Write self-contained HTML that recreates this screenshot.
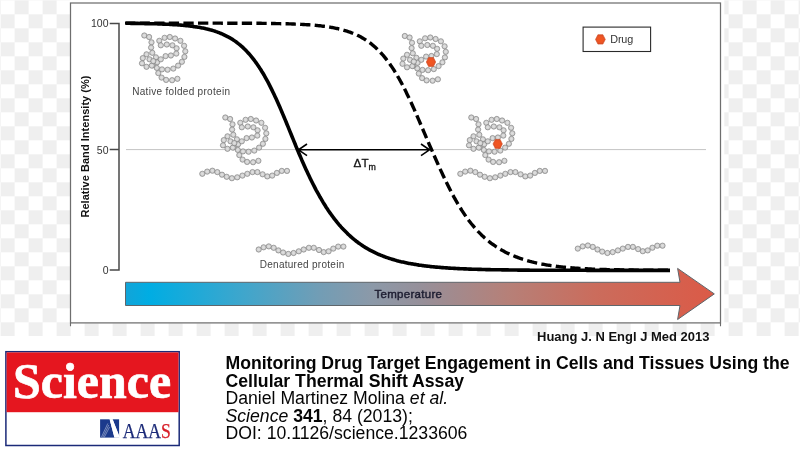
<!DOCTYPE html>
<html><head><meta charset="utf-8"><title>CETSA</title>
<style>
html,body{margin:0;padding:0;background:#fff;}
body{width:800px;height:459px;position:relative;overflow:hidden;}
</style></head><body>
<svg width="800" height="459" viewBox="0 0 800 459" style="position:absolute;left:0;top:0">
<defs>
<pattern id="chk" x="0.6" y="0.3" width="28" height="28" patternUnits="userSpaceOnUse">
<rect width="28" height="28" fill="#ffffff"/>
<rect x="14" y="0" width="14" height="14" fill="#efefef"/>
<rect x="0" y="14" width="14" height="14" fill="#efefef"/>
</pattern>
<radialGradient id="bg" cx="0.5" cy="0.5" r="0.5"><stop offset="0" stop-color="#e2e2e2"/><stop offset="0.6" stop-color="#d4d4d4"/><stop offset="1" stop-color="#c0c0c0"/></radialGradient>
<radialGradient id="dg" cx="0.5" cy="0.5" r="0.5"><stop offset="0" stop-color="#f4561f"/><stop offset="0.6" stop-color="#ee5524"/><stop offset="1" stop-color="#dc4f26"/></radialGradient>
<linearGradient id="tg" x1="0" y1="0" x2="1" y2="0">
<stop offset="0" stop-color="#12a4d8"/>
<stop offset="0.04" stop-color="#00ade3"/>
<stop offset="0.2" stop-color="#3fa6cc"/>
<stop offset="0.33" stop-color="#729db5"/>
<stop offset="0.42" stop-color="#8c99a8"/>
<stop offset="0.5" stop-color="#96909a"/>
<stop offset="0.65" stop-color="#b68078"/>
<stop offset="0.8" stop-color="#cb6c5c"/>
<stop offset="1" stop-color="#db5a47"/>
</linearGradient>
</defs>
<rect x="0" y="0" width="800" height="336" fill="url(#chk)"/>
<rect x="70" y="0" width="654.3" height="323.3" fill="#fff"/>
<rect x="70.5" y="3" width="650" height="319.9" fill="none" stroke="#6e6e6e" stroke-width="1.25"/>
<path d="M70.5 323V326.2M720.5 323V326.2" stroke="#6c6c6c" stroke-width="1.1"/>
<line x1="126" y1="149.6" x2="706" y2="149.6" stroke="#c4c4c4" stroke-width="1"/>
<path d="M109.7 23.4H119V270.1H109.7 M109.7 149.6H119" fill="none" stroke="#484848" stroke-width="1.5"/>
<g fill="url(#bg)" stroke="#808080" stroke-width="0.65">
<circle cx="144.3" cy="35.5" r="2.65"/><circle cx="149.1" cy="37.0" r="2.65"/><circle cx="151.5" cy="42.3" r="2.65"/><circle cx="151.1" cy="47.6" r="2.65"/><circle cx="152.3" cy="52.8" r="2.65"/><circle cx="155.9" cy="57.3" r="2.65"/><circle cx="157.1" cy="62.3" r="2.65"/><circle cx="156.8" cy="67.9" r="2.65"/><circle cx="158.3" cy="73.1" r="2.65"/><circle cx="161.6" cy="77.6" r="2.65"/><circle cx="166.1" cy="79.9" r="2.65"/><circle cx="172.1" cy="80.2" r="2.65"/><circle cx="177.4" cy="78.8" r="2.65"/><circle cx="159.3" cy="40.8" r="2.65"/><circle cx="164.6" cy="37.8" r="2.65"/><circle cx="169.8" cy="37.0" r="2.65"/><circle cx="175.1" cy="38.5" r="2.65"/><circle cx="180.4" cy="40.8" r="2.65"/><circle cx="184.1" cy="45.8" r="2.65"/><circle cx="185.3" cy="51.3" r="2.65"/><circle cx="184.4" cy="56.9" r="2.65"/><circle cx="181.9" cy="61.8" r="2.65"/><circle cx="178.1" cy="65.6" r="2.65"/><circle cx="173.3" cy="68.6" r="2.65"/><circle cx="167.6" cy="69.7" r="2.65"/><circle cx="162.0" cy="69.4" r="2.65"/><circle cx="160.8" cy="45.3" r="2.65"/><circle cx="166.8" cy="44.5" r="2.65"/><circle cx="172.4" cy="45.3" r="2.65"/><circle cx="176.6" cy="48.3" r="2.65"/><circle cx="176.3" cy="53.6" r="2.65"/><circle cx="170.9" cy="55.5" r="2.65"/><circle cx="165.6" cy="56.1" r="2.65"/><circle cx="160.8" cy="59.3" r="2.65"/><circle cx="152.6" cy="65.3" r="2.65"/><circle cx="146.5" cy="54.3" r="2.65"/><circle cx="142.8" cy="58.1" r="2.65"/><circle cx="142.0" cy="63.3" r="2.65"/><circle cx="146.5" cy="66.8" r="2.65"/><circle cx="151.8" cy="65.6" r="2.65"/><circle cx="149.5" cy="59.3" r="2.65"/><circle cx="153.3" cy="61.1" r="2.65"/>
<circle cx="225.3" cy="117.5" r="2.65"/><circle cx="230.1" cy="119.0" r="2.65"/><circle cx="232.5" cy="124.3" r="2.65"/><circle cx="232.1" cy="129.6" r="2.65"/><circle cx="233.3" cy="134.8" r="2.65"/><circle cx="236.9" cy="139.3" r="2.65"/><circle cx="238.1" cy="144.3" r="2.65"/><circle cx="237.8" cy="149.9" r="2.65"/><circle cx="239.3" cy="155.1" r="2.65"/><circle cx="242.6" cy="159.6" r="2.65"/><circle cx="247.1" cy="161.9" r="2.65"/><circle cx="253.1" cy="162.2" r="2.65"/><circle cx="258.4" cy="160.8" r="2.65"/><circle cx="240.3" cy="122.8" r="2.65"/><circle cx="245.6" cy="119.8" r="2.65"/><circle cx="250.8" cy="119.0" r="2.65"/><circle cx="256.1" cy="120.5" r="2.65"/><circle cx="261.4" cy="122.8" r="2.65"/><circle cx="265.1" cy="127.8" r="2.65"/><circle cx="266.3" cy="133.3" r="2.65"/><circle cx="265.4" cy="138.9" r="2.65"/><circle cx="262.9" cy="143.8" r="2.65"/><circle cx="259.1" cy="147.6" r="2.65"/><circle cx="254.3" cy="150.6" r="2.65"/><circle cx="248.6" cy="151.7" r="2.65"/><circle cx="243.0" cy="151.4" r="2.65"/><circle cx="241.8" cy="127.3" r="2.65"/><circle cx="247.8" cy="126.5" r="2.65"/><circle cx="253.4" cy="127.3" r="2.65"/><circle cx="257.6" cy="130.3" r="2.65"/><circle cx="257.3" cy="135.6" r="2.65"/><circle cx="251.9" cy="137.5" r="2.65"/><circle cx="246.6" cy="138.1" r="2.65"/><circle cx="241.8" cy="141.3" r="2.65"/><circle cx="233.6" cy="147.3" r="2.65"/><circle cx="227.5" cy="136.3" r="2.65"/><circle cx="223.8" cy="140.1" r="2.65"/><circle cx="223.0" cy="145.3" r="2.65"/><circle cx="227.5" cy="148.8" r="2.65"/><circle cx="232.8" cy="147.6" r="2.65"/><circle cx="230.5" cy="141.3" r="2.65"/><circle cx="234.3" cy="143.1" r="2.65"/>
<circle cx="404.8" cy="36.0" r="2.65"/><circle cx="409.6" cy="37.5" r="2.65"/><circle cx="412.0" cy="42.8" r="2.65"/><circle cx="411.6" cy="48.1" r="2.65"/><circle cx="412.8" cy="53.3" r="2.65"/><circle cx="416.4" cy="57.8" r="2.65"/><circle cx="417.6" cy="62.8" r="2.65"/><circle cx="417.3" cy="68.4" r="2.65"/><circle cx="418.8" cy="73.6" r="2.65"/><circle cx="422.1" cy="78.1" r="2.65"/><circle cx="426.6" cy="80.4" r="2.65"/><circle cx="432.6" cy="80.7" r="2.65"/><circle cx="437.9" cy="79.3" r="2.65"/><circle cx="419.8" cy="41.3" r="2.65"/><circle cx="425.1" cy="38.3" r="2.65"/><circle cx="430.3" cy="37.5" r="2.65"/><circle cx="435.6" cy="39.0" r="2.65"/><circle cx="440.9" cy="41.3" r="2.65"/><circle cx="444.6" cy="46.3" r="2.65"/><circle cx="445.8" cy="51.8" r="2.65"/><circle cx="444.9" cy="57.4" r="2.65"/><circle cx="442.4" cy="62.3" r="2.65"/><circle cx="438.6" cy="66.1" r="2.65"/><circle cx="433.8" cy="69.1" r="2.65"/><circle cx="428.1" cy="70.2" r="2.65"/><circle cx="422.5" cy="69.9" r="2.65"/><circle cx="421.3" cy="45.8" r="2.65"/><circle cx="427.3" cy="45.0" r="2.65"/><circle cx="432.9" cy="45.8" r="2.65"/><circle cx="437.1" cy="48.8" r="2.65"/><circle cx="436.8" cy="54.1" r="2.65"/><circle cx="431.4" cy="56.0" r="2.65"/><circle cx="426.1" cy="56.6" r="2.65"/><circle cx="421.3" cy="59.8" r="2.65"/><circle cx="413.1" cy="65.8" r="2.65"/><circle cx="407.0" cy="54.8" r="2.65"/><circle cx="403.3" cy="58.6" r="2.65"/><circle cx="402.5" cy="63.8" r="2.65"/><circle cx="407.0" cy="67.3" r="2.65"/><circle cx="412.3" cy="66.1" r="2.65"/><circle cx="410.0" cy="59.8" r="2.65"/><circle cx="413.8" cy="61.6" r="2.65"/>
<circle cx="471.3" cy="117.5" r="2.65"/><circle cx="476.1" cy="119.0" r="2.65"/><circle cx="478.5" cy="124.3" r="2.65"/><circle cx="478.1" cy="129.6" r="2.65"/><circle cx="479.3" cy="134.8" r="2.65"/><circle cx="482.9" cy="139.3" r="2.65"/><circle cx="484.1" cy="144.3" r="2.65"/><circle cx="483.8" cy="149.9" r="2.65"/><circle cx="485.3" cy="155.1" r="2.65"/><circle cx="488.6" cy="159.6" r="2.65"/><circle cx="493.1" cy="161.9" r="2.65"/><circle cx="499.1" cy="162.2" r="2.65"/><circle cx="504.4" cy="160.8" r="2.65"/><circle cx="486.3" cy="122.8" r="2.65"/><circle cx="491.6" cy="119.8" r="2.65"/><circle cx="496.8" cy="119.0" r="2.65"/><circle cx="502.1" cy="120.5" r="2.65"/><circle cx="507.4" cy="122.8" r="2.65"/><circle cx="511.1" cy="127.8" r="2.65"/><circle cx="512.3" cy="133.3" r="2.65"/><circle cx="511.4" cy="138.9" r="2.65"/><circle cx="508.9" cy="143.8" r="2.65"/><circle cx="505.1" cy="147.6" r="2.65"/><circle cx="500.3" cy="150.6" r="2.65"/><circle cx="494.6" cy="151.7" r="2.65"/><circle cx="489.0" cy="151.4" r="2.65"/><circle cx="487.8" cy="127.3" r="2.65"/><circle cx="493.8" cy="126.5" r="2.65"/><circle cx="499.4" cy="127.3" r="2.65"/><circle cx="503.6" cy="130.3" r="2.65"/><circle cx="503.3" cy="135.6" r="2.65"/><circle cx="497.9" cy="137.5" r="2.65"/><circle cx="492.6" cy="138.1" r="2.65"/><circle cx="487.8" cy="141.3" r="2.65"/><circle cx="479.6" cy="147.3" r="2.65"/><circle cx="473.5" cy="136.3" r="2.65"/><circle cx="469.8" cy="140.1" r="2.65"/><circle cx="469.0" cy="145.3" r="2.65"/><circle cx="473.5" cy="148.8" r="2.65"/><circle cx="478.8" cy="147.6" r="2.65"/><circle cx="476.5" cy="141.3" r="2.65"/><circle cx="480.3" cy="143.1" r="2.65"/>
<circle cx="202.3" cy="173.8" r="2.65"/><circle cx="207.2" cy="171.6" r="2.65"/><circle cx="212.4" cy="170.7" r="2.65"/><circle cx="217.3" cy="172.1" r="2.65"/><circle cx="222.0" cy="174.7" r="2.65"/><circle cx="226.7" cy="176.8" r="2.65"/><circle cx="231.9" cy="178.2" r="2.65"/><circle cx="237.2" cy="177.3" r="2.65"/><circle cx="242.4" cy="175.6" r="2.65"/><circle cx="247.3" cy="173.8" r="2.65"/><circle cx="252.5" cy="172.1" r="2.65"/><circle cx="257.4" cy="172.1" r="2.65"/><circle cx="262.6" cy="174.3" r="2.65"/><circle cx="267.3" cy="176.4" r="2.65"/><circle cx="272.2" cy="175.6" r="2.65"/><circle cx="276.9" cy="172.9" r="2.65"/><circle cx="281.8" cy="170.9" r="2.65"/><circle cx="287.0" cy="170.9" r="2.65"/>
<circle cx="258.7" cy="249.5" r="2.65"/><circle cx="263.6" cy="247.3" r="2.65"/><circle cx="268.8" cy="246.4" r="2.65"/><circle cx="273.7" cy="247.8" r="2.65"/><circle cx="278.4" cy="250.4" r="2.65"/><circle cx="283.1" cy="252.5" r="2.65"/><circle cx="288.3" cy="253.9" r="2.65"/><circle cx="293.6" cy="253.0" r="2.65"/><circle cx="298.8" cy="251.3" r="2.65"/><circle cx="303.7" cy="249.5" r="2.65"/><circle cx="308.9" cy="247.8" r="2.65"/><circle cx="313.8" cy="247.8" r="2.65"/><circle cx="319.0" cy="250.0" r="2.65"/><circle cx="323.7" cy="252.1" r="2.65"/><circle cx="328.6" cy="251.3" r="2.65"/><circle cx="333.3" cy="248.6" r="2.65"/><circle cx="338.2" cy="246.6" r="2.65"/><circle cx="343.4" cy="246.6" r="2.65"/>
<circle cx="460.3" cy="173.8" r="2.65"/><circle cx="465.2" cy="171.6" r="2.65"/><circle cx="470.4" cy="170.7" r="2.65"/><circle cx="475.3" cy="172.1" r="2.65"/><circle cx="480.0" cy="174.7" r="2.65"/><circle cx="484.7" cy="176.8" r="2.65"/><circle cx="489.9" cy="178.2" r="2.65"/><circle cx="495.2" cy="177.3" r="2.65"/><circle cx="500.4" cy="175.6" r="2.65"/><circle cx="505.3" cy="173.8" r="2.65"/><circle cx="510.5" cy="172.1" r="2.65"/><circle cx="515.4" cy="172.1" r="2.65"/><circle cx="520.6" cy="174.3" r="2.65"/><circle cx="525.3" cy="176.4" r="2.65"/><circle cx="530.2" cy="175.6" r="2.65"/><circle cx="534.9" cy="172.9" r="2.65"/><circle cx="539.8" cy="170.9" r="2.65"/><circle cx="545.0" cy="170.9" r="2.65"/>
<circle cx="577.8" cy="248.6" r="2.65"/><circle cx="582.7" cy="246.4" r="2.65"/><circle cx="587.9" cy="245.5" r="2.65"/><circle cx="592.8" cy="246.9" r="2.65"/><circle cx="597.5" cy="249.5" r="2.65"/><circle cx="602.2" cy="251.6" r="2.65"/><circle cx="607.4" cy="253.0" r="2.65"/><circle cx="612.7" cy="252.1" r="2.65"/><circle cx="617.9" cy="250.4" r="2.65"/><circle cx="622.8" cy="248.6" r="2.65"/><circle cx="628.0" cy="246.9" r="2.65"/><circle cx="632.9" cy="246.9" r="2.65"/><circle cx="638.1" cy="249.1" r="2.65"/><circle cx="642.8" cy="251.2" r="2.65"/><circle cx="647.7" cy="250.4" r="2.65"/><circle cx="652.4" cy="247.7" r="2.65"/><circle cx="657.3" cy="245.7" r="2.65"/><circle cx="662.5" cy="245.7" r="2.65"/>
</g>
<polygon points="435.7,62.0 433.4,66.5 428.6,66.5 426.3,62.0 428.6,57.5 433.4,57.5" fill="url(#dg)" stroke="#cf4a22" stroke-width="0.6"/>
<polygon points="502.4,143.9 500.1,148.4 495.3,148.4 493.0,143.9 495.3,139.4 500.1,139.4" fill="url(#dg)" stroke="#cf4a22" stroke-width="0.6"/>
<path d="M125.0 23.1 L126.0 23.1 L127.0 23.1 L128.0 23.1 L129.0 23.1 L130.0 23.1 L131.0 23.1 L132.0 23.1 L133.0 23.1 L134.0 23.1 L135.0 23.1 L136.0 23.1 L137.0 23.1 L138.0 23.1 L139.0 23.1 L140.0 23.1 L141.0 23.1 L142.0 23.1 L143.0 23.1 L144.0 23.1 L145.0 23.1 L146.0 23.1 L147.0 23.1 L148.0 23.1 L149.0 23.1 L150.0 23.1 L151.0 23.1 L152.0 23.1 L153.0 23.1 L154.0 23.1 L155.0 23.1 L156.0 23.1 L157.0 23.1 L158.0 23.1 L159.0 23.1 L160.0 23.1 L161.0 23.1 L162.0 23.1 L163.0 23.1 L164.0 23.1 L165.0 23.1 L166.0 23.1 L167.0 23.1 L168.0 23.1 L169.0 23.1 L170.0 23.1 L171.0 23.1 L172.0 23.1 L173.0 23.1 L174.0 23.1 L175.0 23.1 L176.0 23.1 L177.0 23.1 L178.0 23.1 L179.0 23.1 L180.0 23.1 L181.0 23.1 L182.0 23.1 L183.0 23.1 L184.0 23.1 L185.0 23.1 L186.0 23.1 L187.0 23.1 L188.0 23.1 L189.0 23.1 L190.0 23.1 L191.0 23.1 L192.0 23.1 L193.0 23.1 L194.0 23.1 L195.0 23.1 L196.0 23.1 L197.0 23.1 L198.0 23.1 L199.0 23.1 L200.0 23.1 L201.0 23.1 L202.0 23.1 L203.0 23.1 L204.0 23.1 L205.0 23.1 L206.0 23.1 L207.0 23.1 L208.0 23.1 L209.0 23.1 L210.0 23.1 L211.0 23.1 L212.0 23.1 L213.0 23.1 L214.0 23.1 L215.0 23.1 L216.0 23.1 L217.0 23.1 L218.0 23.1 L219.0 23.1 L220.0 23.1 L221.0 23.1 L222.0 23.2 L223.0 23.2 L224.0 23.2 L225.0 23.2 L226.0 23.2 L227.0 23.2 L228.0 23.2 L229.0 23.2 L230.0 23.2 L231.0 23.2 L232.0 23.2 L233.0 23.2 L234.0 23.2 L235.0 23.2 L236.0 23.2 L237.0 23.2 L238.0 23.2 L239.0 23.2 L240.0 23.2 L241.0 23.2 L242.0 23.2 L243.0 23.2 L244.0 23.2 L245.0 23.2 L246.0 23.2 L247.0 23.2 L248.0 23.2 L249.0 23.3 L250.0 23.3 L251.0 23.3 L252.0 23.3 L253.0 23.3 L254.0 23.3 L255.0 23.3 L256.0 23.3 L257.0 23.3 L258.0 23.3 L259.0 23.3 L260.0 23.3 L261.0 23.3 L262.0 23.4 L263.0 23.4 L264.0 23.4 L265.0 23.4 L266.0 23.4 L267.0 23.4 L268.0 23.4 L269.0 23.4 L270.0 23.5 L271.0 23.5 L272.0 23.5 L273.0 23.5 L274.0 23.5 L275.0 23.5 L276.0 23.6 L277.0 23.6 L278.0 23.6 L279.0 23.6 L280.0 23.6 L281.0 23.7 L282.0 23.7 L283.0 23.7 L284.0 23.7 L285.0 23.8 L286.0 23.8 L287.0 23.8 L288.0 23.8 L289.0 23.9 L290.0 23.9 L291.0 23.9 L292.0 24.0 L293.0 24.0 L294.0 24.0 L295.0 24.1 L296.0 24.1 L297.0 24.2 L298.0 24.2 L299.0 24.3 L300.0 24.3 L301.0 24.4 L302.0 24.4 L303.0 24.5 L304.0 24.5 L305.0 24.6 L306.0 24.6 L307.0 24.7 L308.0 24.8 L309.0 24.8 L310.0 24.9 L311.0 25.0 L312.0 25.1 L313.0 25.2 L314.0 25.2 L315.0 25.3 L316.0 25.4 L317.0 25.5 L318.0 25.6 L319.0 25.7 L320.0 25.8 L321.0 25.9 L322.0 26.1 L323.0 26.2 L324.0 26.3 L325.0 26.4 L326.0 26.6 L327.0 26.7 L328.0 26.9 L329.0 27.0 L330.0 27.2 L331.0 27.4 L332.0 27.5 L333.0 27.7 L334.0 27.9 L335.0 28.1 L336.0 28.3 L337.0 28.5 L338.0 28.7 L339.0 29.0 L340.0 29.2 L341.0 29.5 L342.0 29.7 L343.0 30.0 L344.0 30.3 L345.0 30.6 L346.0 30.9 L347.0 31.2 L348.0 31.5 L349.0 31.9 L350.0 32.2 L351.0 32.6 L352.0 33.0 L353.0 33.4 L354.0 33.8 L355.0 34.2 L356.0 34.6 L357.0 35.1 L358.0 35.6 L359.0 36.1 L360.0 36.6 L361.0 37.1 L362.0 37.7 L363.0 38.3 L364.0 38.9 L365.0 39.5 L366.0 40.1 L367.0 40.8 L368.0 41.5 L369.0 42.2 L370.0 42.9 L371.0 43.7 L372.0 44.5 L373.0 45.3 L374.0 46.2 L375.0 47.1 L376.0 48.0 L377.0 48.9 L378.0 49.9 L379.0 50.9 L380.0 51.9 L381.0 53.0 L382.0 54.1 L383.0 55.2 L384.0 56.4 L385.0 57.6 L386.0 58.9 L387.0 60.2 L388.0 61.5 L389.0 62.8 L390.0 64.2 L391.0 65.7 L392.0 67.1 L393.0 68.6 L394.0 70.2 L395.0 71.8 L396.0 73.4 L397.0 75.1 L398.0 76.8 L399.0 78.5 L400.0 80.3 L401.0 82.2 L402.0 84.0 L403.0 85.9 L404.0 87.8 L405.0 89.8 L406.0 91.8 L407.0 93.9 L408.0 95.9 L409.0 98.0 L410.0 100.2 L411.0 102.3 L412.0 104.5 L413.0 106.7 L414.0 108.9 L415.0 111.2 L416.0 113.5 L417.0 115.8 L418.0 118.1 L419.0 120.4 L420.0 122.7 L421.0 125.1 L422.0 127.4 L423.0 129.7 L424.0 132.1 L425.0 134.4 L426.0 136.8 L427.0 139.1 L428.0 141.4 L429.0 143.8 L430.0 146.1 L431.0 148.4 L432.0 150.6 L433.0 152.9 L434.0 155.2 L435.0 157.5 L436.0 159.7 L437.0 162.0 L438.0 164.2 L439.0 166.5 L440.0 168.7 L441.0 170.9 L442.0 173.0 L443.0 175.2 L444.0 177.3 L445.0 179.4 L446.0 181.5 L447.0 183.5 L448.0 185.6 L449.0 187.6 L450.0 189.5 L451.0 191.5 L452.0 193.4 L453.0 195.2 L454.0 197.1 L455.0 198.9 L456.0 200.7 L457.0 202.4 L458.0 204.1 L459.0 205.8 L460.0 207.4 L461.0 209.0 L462.0 210.6 L463.0 212.1 L464.0 213.6 L465.0 215.1 L466.0 216.6 L467.0 218.0 L468.0 219.3 L469.0 220.7 L470.0 222.0 L471.0 223.3 L472.0 224.5 L473.0 225.7 L474.0 226.9 L475.0 228.1 L476.0 229.2 L477.0 230.3 L478.0 231.4 L479.0 232.4 L480.0 233.4 L481.0 234.4 L482.0 235.4 L483.0 236.3 L484.0 237.3 L485.0 238.2 L486.0 239.0 L487.0 239.9 L488.0 240.7 L489.0 241.5 L490.0 242.3 L491.0 243.1 L492.0 243.8 L493.0 244.5 L494.0 245.2 L495.0 245.9 L496.0 246.6 L497.0 247.2 L498.0 247.9 L499.0 248.5 L500.0 249.1 L501.0 249.7 L502.0 250.2 L503.0 250.8 L504.0 251.3 L505.0 251.9 L506.0 252.4 L507.0 252.9 L508.0 253.4 L509.0 253.8 L510.0 254.3 L511.0 254.8 L512.0 255.2 L513.0 255.6 L514.0 256.0 L515.0 256.4 L516.0 256.8 L517.0 257.2 L518.0 257.6 L519.0 258.0 L520.0 258.3 L521.0 258.6 L522.0 259.0 L523.0 259.3 L524.0 259.6 L525.0 259.9 L526.0 260.2 L527.0 260.5 L528.0 260.8 L529.0 261.1 L530.0 261.4 L531.0 261.6 L532.0 261.9 L533.0 262.1 L534.0 262.4 L535.0 262.6 L536.0 262.8 L537.0 263.1 L538.0 263.3 L539.0 263.5 L540.0 263.7 L541.0 263.9 L542.0 264.1 L543.0 264.3 L544.0 264.4 L545.0 264.6 L546.0 264.8 L547.0 265.0 L548.0 265.1 L549.0 265.3 L550.0 265.4 L551.0 265.6 L552.0 265.7 L553.0 265.9 L554.0 266.0 L555.0 266.1 L556.0 266.3 L557.0 266.4 L558.0 266.5 L559.0 266.6 L560.0 266.8 L561.0 266.9 L562.0 267.0 L563.0 267.1 L564.0 267.2 L565.0 267.3 L566.0 267.4 L567.0 267.5 L568.0 267.6 L569.0 267.6 L570.0 267.7 L571.0 267.8 L572.0 267.9 L573.0 268.0 L574.0 268.0 L575.0 268.1 L576.0 268.2 L577.0 268.3 L578.0 268.3 L579.0 268.4 L580.0 268.5 L581.0 268.5 L582.0 268.6 L583.0 268.6 L584.0 268.7 L585.0 268.7 L586.0 268.8 L587.0 268.8 L588.0 268.9 L589.0 268.9 L590.0 269.0 L591.0 269.0 L592.0 269.1 L593.0 269.1 L594.0 269.2 L595.0 269.2 L596.0 269.2 L597.0 269.3 L598.0 269.3 L599.0 269.3 L600.0 269.4 L601.0 269.4 L602.0 269.4 L603.0 269.5 L604.0 269.5 L605.0 269.5 L606.0 269.5 L607.0 269.6 L608.0 269.6 L609.0 269.6 L610.0 269.7 L611.0 269.7 L612.0 269.7 L613.0 269.7 L614.0 269.7 L615.0 269.8 L616.0 269.8 L617.0 269.8 L618.0 269.8 L619.0 269.8 L620.0 269.9 L621.0 269.9 L622.0 269.9 L623.0 269.9 L624.0 269.9 L625.0 269.9 L626.0 270.0 L627.0 270.0 L628.0 270.0 L629.0 270.0 L630.0 270.0 L631.0 270.0 L632.0 270.0 L633.0 270.0 L634.0 270.1 L635.0 270.1 L636.0 270.1 L637.0 270.1 L638.0 270.1 L639.0 270.1 L640.0 270.1 L641.0 270.1 L642.0 270.1 L643.0 270.1 L644.0 270.1 L645.0 270.2 L646.0 270.2 L647.0 270.2 L648.0 270.2 L649.0 270.2 L650.0 270.2 L651.0 270.2 L652.0 270.2 L653.0 270.2 L654.0 270.2 L655.0 270.2 L656.0 270.2 L657.0 270.2 L658.0 270.2 L659.0 270.2 L660.0 270.3 L661.0 270.3 L662.0 270.3 L663.0 270.3 L664.0 270.3 L665.0 270.3 L666.0 270.3 L667.0 270.3 L668.0 270.3 L669.0 270.3" fill="none" stroke="#000" stroke-width="3.4" stroke-dasharray="10.3 4.3"/>
<path d="M126.0 23.3 L127.0 23.3 L128.0 23.3 L129.0 23.3 L130.0 23.3 L131.0 23.4 L132.0 23.4 L133.0 23.4 L134.0 23.4 L135.0 23.4 L136.0 23.4 L137.0 23.4 L138.0 23.4 L139.0 23.5 L140.0 23.5 L141.0 23.5 L142.0 23.5 L143.0 23.5 L144.0 23.5 L145.0 23.6 L146.0 23.6 L147.0 23.6 L148.0 23.6 L149.0 23.6 L150.0 23.7 L151.0 23.7 L152.0 23.7 L153.0 23.7 L154.0 23.8 L155.0 23.8 L156.0 23.8 L157.0 23.8 L158.0 23.9 L159.0 23.9 L160.0 23.9 L161.0 24.0 L162.0 24.0 L163.0 24.1 L164.0 24.1 L165.0 24.1 L166.0 24.2 L167.0 24.2 L168.0 24.3 L169.0 24.3 L170.0 24.4 L171.0 24.4 L172.0 24.5 L173.0 24.6 L174.0 24.6 L175.0 24.7 L176.0 24.7 L177.0 24.8 L178.0 24.9 L179.0 25.0 L180.0 25.0 L181.0 25.1 L182.0 25.2 L183.0 25.3 L184.0 25.4 L185.0 25.5 L186.0 25.6 L187.0 25.7 L188.0 25.8 L189.0 25.9 L190.0 26.0 L191.0 26.2 L192.0 26.3 L193.0 26.4 L194.0 26.6 L195.0 26.7 L196.0 26.9 L197.0 27.0 L198.0 27.2 L199.0 27.3 L200.0 27.5 L201.0 27.7 L202.0 27.9 L203.0 28.1 L204.0 28.3 L205.0 28.5 L206.0 28.8 L207.0 29.0 L208.0 29.2 L209.0 29.5 L210.0 29.8 L211.0 30.0 L212.0 30.3 L213.0 30.6 L214.0 30.9 L215.0 31.2 L216.0 31.6 L217.0 31.9 L218.0 32.3 L219.0 32.7 L220.0 33.1 L221.0 33.5 L222.0 33.9 L223.0 34.3 L224.0 34.8 L225.0 35.3 L226.0 35.8 L227.0 36.3 L228.0 36.8 L229.0 37.4 L230.0 37.9 L231.0 38.5 L232.0 39.1 L233.0 39.8 L234.0 40.4 L235.0 41.1 L236.0 41.8 L237.0 42.6 L238.0 43.4 L239.0 44.1 L240.0 45.0 L241.0 45.8 L242.0 46.7 L243.0 47.6 L244.0 48.6 L245.0 49.5 L246.0 50.5 L247.0 51.6 L248.0 52.7 L249.0 53.8 L250.0 54.9 L251.0 56.1 L252.0 57.3 L253.0 58.6 L254.0 59.9 L255.0 61.2 L256.0 62.6 L257.0 64.0 L258.0 65.4 L259.0 66.9 L260.0 68.5 L261.0 70.0 L262.0 71.7 L263.0 73.3 L264.0 75.0 L265.0 76.8 L266.0 78.6 L267.0 80.4 L268.0 82.2 L269.0 84.1 L270.0 86.1 L271.0 88.1 L272.0 90.1 L273.0 92.2 L274.0 94.3 L275.0 96.4 L276.0 98.6 L277.0 100.8 L278.0 103.0 L279.0 105.3 L280.0 107.5 L281.0 109.9 L282.0 112.2 L283.0 114.6 L284.0 117.0 L285.0 119.4 L286.0 121.8 L287.0 124.2 L288.0 126.6 L289.0 129.1 L290.0 131.6 L291.0 134.0 L292.0 136.5 L293.0 138.9 L294.0 141.4 L295.0 143.8 L296.0 146.3 L297.0 148.7 L298.0 151.1 L299.0 153.5 L300.0 155.8 L301.0 158.1 L302.0 160.5 L303.0 162.7 L304.0 165.0 L305.0 167.2 L306.0 169.4 L307.0 171.6 L308.0 173.7 L309.0 175.8 L310.0 177.9 L311.0 180.0 L312.0 182.0 L313.0 184.0 L314.0 185.9 L315.0 187.9 L316.0 189.8 L317.0 191.6 L318.0 193.4 L319.0 195.2 L320.0 197.0 L321.0 198.7 L322.0 200.4 L323.0 202.1 L324.0 203.7 L325.0 205.3 L326.0 206.9 L327.0 208.4 L328.0 210.0 L329.0 211.4 L330.0 212.9 L331.0 214.3 L332.0 215.7 L333.0 217.0 L334.0 218.4 L335.0 219.7 L336.0 220.9 L337.0 222.2 L338.0 223.4 L339.0 224.6 L340.0 225.7 L341.0 226.9 L342.0 228.0 L343.0 229.0 L344.0 230.1 L345.0 231.1 L346.0 232.1 L347.0 233.1 L348.0 234.1 L349.0 235.0 L350.0 235.9 L351.0 236.8 L352.0 237.7 L353.0 238.5 L354.0 239.4 L355.0 240.2 L356.0 241.0 L357.0 241.7 L358.0 242.5 L359.0 243.2 L360.0 243.9 L361.0 244.6 L362.0 245.3 L363.0 246.0 L364.0 246.6 L365.0 247.2 L366.0 247.9 L367.0 248.4 L368.0 249.0 L369.0 249.6 L370.0 250.1 L371.0 250.7 L372.0 251.2 L373.0 251.7 L374.0 252.2 L375.0 252.7 L376.0 253.2 L377.0 253.6 L378.0 254.1 L379.0 254.5 L380.0 254.9 L381.0 255.3 L382.0 255.7 L383.0 256.1 L384.0 256.5 L385.0 256.9 L386.0 257.3 L387.0 257.6 L388.0 257.9 L389.0 258.3 L390.0 258.6 L391.0 258.9 L392.0 259.2 L393.0 259.5 L394.0 259.8 L395.0 260.1 L396.0 260.4 L397.0 260.7 L398.0 260.9 L399.0 261.2 L400.0 261.4 L401.0 261.7 L402.0 261.9 L403.0 262.1 L404.0 262.3 L405.0 262.6 L406.0 262.8 L407.0 263.0 L408.0 263.2 L409.0 263.4 L410.0 263.6 L411.0 263.8 L412.0 263.9 L413.0 264.1 L414.0 264.3 L415.0 264.4 L416.0 264.6 L417.0 264.8 L418.0 264.9 L419.0 265.1 L420.0 265.2 L421.0 265.3 L422.0 265.5 L423.0 265.6 L424.0 265.7 L425.0 265.9 L426.0 266.0 L427.0 266.1 L428.0 266.2 L429.0 266.3 L430.0 266.5 L431.0 266.6 L432.0 266.7 L433.0 266.8 L434.0 266.9 L435.0 267.0 L436.0 267.1 L437.0 267.1 L438.0 267.2 L439.0 267.3 L440.0 267.4 L441.0 267.5 L442.0 267.6 L443.0 267.6 L444.0 267.7 L445.0 267.8 L446.0 267.9 L447.0 267.9 L448.0 268.0 L449.0 268.1 L450.0 268.1 L451.0 268.2 L452.0 268.2 L453.0 268.3 L454.0 268.4 L455.0 268.4 L456.0 268.5 L457.0 268.5 L458.0 268.6 L459.0 268.6 L460.0 268.7 L461.0 268.7 L462.0 268.8 L463.0 268.8 L464.0 268.9 L465.0 268.9 L466.0 268.9 L467.0 269.0 L468.0 269.0 L469.0 269.1 L470.0 269.1 L471.0 269.1 L472.0 269.2 L473.0 269.2 L474.0 269.2 L475.0 269.3 L476.0 269.3 L477.0 269.3 L478.0 269.4 L479.0 269.4 L480.0 269.4 L481.0 269.4 L482.0 269.5 L483.0 269.5 L484.0 269.5 L485.0 269.5 L486.0 269.6 L487.0 269.6 L488.0 269.6 L489.0 269.6 L490.0 269.6 L491.0 269.7 L492.0 269.7 L493.0 269.7 L494.0 269.7 L495.0 269.7 L496.0 269.8 L497.0 269.8 L498.0 269.8 L499.0 269.8 L500.0 269.8 L501.0 269.8 L502.0 269.9 L503.0 269.9 L504.0 269.9 L505.0 269.9 L506.0 269.9 L507.0 269.9 L508.0 269.9 L509.0 270.0 L510.0 270.0 L511.0 270.0 L512.0 270.0 L513.0 270.0 L514.0 270.0 L515.0 270.0 L516.0 270.0 L517.0 270.0 L518.0 270.1 L519.0 270.1 L520.0 270.1 L521.0 270.1 L522.0 270.1 L523.0 270.1 L524.0 270.1 L525.0 270.1 L526.0 270.1 L527.0 270.1 L528.0 270.1 L529.0 270.1 L530.0 270.2 L531.0 270.2 L532.0 270.2 L533.0 270.2 L534.0 270.2 L535.0 270.2 L536.0 270.2 L537.0 270.2 L538.0 270.2 L539.0 270.2 L540.0 270.2 L541.0 270.2 L542.0 270.2 L543.0 270.2 L544.0 270.2 L545.0 270.2 L546.0 270.2 L547.0 270.2 L548.0 270.3 L549.0 270.3 L550.0 270.3 L551.0 270.3 L552.0 270.3 L553.0 270.3 L554.0 270.3 L555.0 270.3 L556.0 270.3 L557.0 270.3 L558.0 270.3 L559.0 270.3 L560.0 270.3 L561.0 270.3 L562.0 270.3 L563.0 270.3 L564.0 270.3 L565.0 270.3 L566.0 270.3 L567.0 270.3 L568.0 270.3 L569.0 270.3 L570.0 270.3 L571.0 270.3 L572.0 270.3 L573.0 270.3 L574.0 270.3 L575.0 270.3 L576.0 270.3 L577.0 270.3 L578.0 270.3 L579.0 270.3 L580.0 270.3 L581.0 270.3 L582.0 270.3 L583.0 270.3 L584.0 270.3 L585.0 270.3 L586.0 270.3 L587.0 270.4 L588.0 270.4 L589.0 270.4 L590.0 270.4 L591.0 270.4 L592.0 270.4 L593.0 270.4 L594.0 270.4 L595.0 270.4 L596.0 270.4 L597.0 270.4 L598.0 270.4 L599.0 270.4 L600.0 270.4 L601.0 270.4 L602.0 270.4 L603.0 270.4 L604.0 270.4 L605.0 270.4 L606.0 270.4 L607.0 270.4 L608.0 270.4 L609.0 270.4 L610.0 270.4 L611.0 270.4 L612.0 270.4 L613.0 270.4 L614.0 270.4 L615.0 270.4 L616.0 270.4 L617.0 270.4 L618.0 270.4 L619.0 270.4 L620.0 270.4 L621.0 270.4 L622.0 270.4 L623.0 270.4 L624.0 270.4 L625.0 270.4 L626.0 270.4 L627.0 270.4 L628.0 270.4 L629.0 270.4 L630.0 270.4 L631.0 270.4 L632.0 270.4 L633.0 270.4 L634.0 270.4 L635.0 270.4 L636.0 270.4 L637.0 270.4 L638.0 270.4 L639.0 270.4 L640.0 270.4 L641.0 270.4 L642.0 270.4 L643.0 270.4 L644.0 270.4 L645.0 270.4 L646.0 270.4 L647.0 270.4 L648.0 270.4 L649.0 270.4 L650.0 270.4 L651.0 270.4 L652.0 270.4 L653.0 270.4 L654.0 270.4 L655.0 270.4 L656.0 270.4 L657.0 270.4 L658.0 270.4 L659.0 270.4 L660.0 270.4 L661.0 270.4 L662.0 270.4 L663.0 270.4 L664.0 270.4 L665.0 270.4 L666.0 270.4 L667.0 270.4 L668.0 270.4 L669.0 270.4 L670.0 270.4" fill="none" stroke="#000" stroke-width="3.6"/>
<path d="M298.5 149.8H429.5 M307 144L298.5 149.8L307 155.6 M421 144L429.5 149.8L421 155.6" fill="none" stroke="#000" stroke-width="1.6"/>
<path d="M125.5 282.3H680L677.6 268.4L714.3 293.9L677.6 319.5L680 305.5H125.5Z" fill="url(#tg)" stroke="#5f666b" stroke-width="1" stroke-linejoin="miter"/>
<rect x="583.1" y="27.1" width="67.5" height="24.4" fill="#fff" stroke="#2a2a2a" stroke-width="1.1"/>
<polygon points="605.3,39.4 602.9,44.1 597.9,44.1 595.5,39.4 597.9,34.7 602.9,34.7" fill="url(#dg)" stroke="#cf4a22" stroke-width="0.6"/>
<g font-family="Liberation Sans, sans-serif" fill="#333">
<text x="108.5" y="27" font-size="10.5" text-anchor="end">100</text>
<text x="108.5" y="153.5" font-size="10.5" text-anchor="end">50</text>
<text x="108.5" y="274" font-size="10.5" text-anchor="end">0</text>
<text x="132.2" y="95.4" font-size="10" textLength="97.8" fill="#444">Native folded protein</text>
<text x="259.7" y="267.8" font-size="10" textLength="84.5" fill="#444">Denatured protein</text>
<text x="610.3" y="42.8" font-size="10.8" textLength="22.9">Drug</text>
<text x="353.6" y="167" font-size="11.7" fill="#111" stroke="#111" stroke-width="0.3">ΔT<tspan font-size="8.8" dy="2.6">m</tspan></text>
<text x="374.5" y="297.6" font-size="11.5" fill="#1e1e32" stroke="#1e1e32" stroke-width="0.45" textLength="67.5">Temperature</text>
<text transform="translate(88.9,217.5) rotate(-90)" font-size="11" font-weight="bold" fill="#111" textLength="142">Relative Band Intensity (%)</text>
</g>
<text x="537" y="341" font-size="13.3" textLength="172.5" lengthAdjust="spacingAndGlyphs" font-weight="bold" fill="#111" font-family="Liberation Sans, sans-serif">Huang J. N Engl J Med 2013</text>
<rect x="5.9" y="351.7" width="173.3" height="93.8" fill="#fff" stroke="#1b2a78" stroke-width="1.5"/>
<rect x="6.6" y="352.4" width="171.9" height="59.8" fill="#e5161f"/>
<text x="13.1" y="398.4" font-size="50.5" font-weight="bold" fill="#fff" stroke="#fff" stroke-width="0.7" font-family="Liberation Serif, serif" textLength="158" lengthAdjust="spacingAndGlyphs">Science</text>
<rect x="100.1" y="419.3" width="19" height="18.3" fill="#1b3a8c"/>
<path d="M109.6 419.3H112.6L119.8 437.6H114.4Z M119.1 419.3V437.6" fill="#fff"/>
<path d="M112.6 419.3L119.8 437.6H114.4L109.6 419.3Z" fill="#fff"/>
<path d="M101.5 437L107.8 423.5M102.8 437.3L108.8 425M104.2 437.4L109.6 427" stroke="#fff" stroke-width="0.5" opacity="0.8" fill="none"/>
<text x="122.7" y="437.6" font-size="20.8" fill="#1b2a78" stroke="#1b2a78" stroke-width="0.25" font-family="Liberation Serif, serif" textLength="48.1" lengthAdjust="spacingAndGlyphs">AAA<tspan fill="#d8202a" stroke="#d8202a">S</tspan></text>
<text x="225.5" y="369.3" font-family="Liberation Sans, sans-serif" font-size="17.65" fill="#050505" font-weight="bold" textLength="564">Monitoring Drug Target Engagement in Cells and Tissues Using the</text>
<text x="225.5" y="387.0" font-family="Liberation Sans, sans-serif" font-size="17.65" fill="#050505" font-weight="bold">Cellular Thermal Shift Assay</text>
<text x="225.5" y="404.2" font-family="Liberation Sans, sans-serif" font-size="17.65" fill="#050505">Daniel Martinez Molina <tspan font-style="italic">et al.</tspan></text>
<text x="225.5" y="421.9" font-family="Liberation Sans, sans-serif" font-size="17.65" fill="#050505"><tspan font-style="italic">Science</tspan> <tspan font-weight="bold">341</tspan>, 84 (2013);</text>
<text x="225.5" y="439.4" font-family="Liberation Sans, sans-serif" font-size="17.65" fill="#050505">DOI: 10.1126/science.1233606</text>
</svg>
</body></html>
